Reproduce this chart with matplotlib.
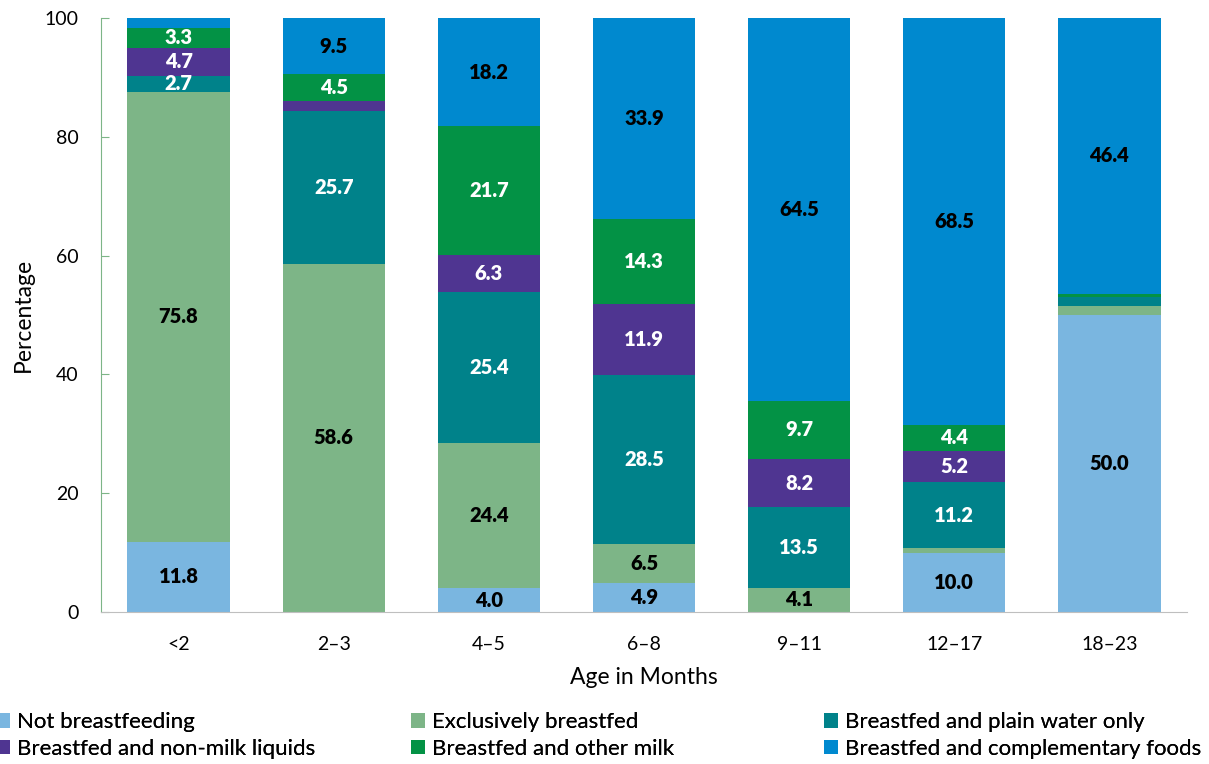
import matplotlib
matplotlib.use("Agg")
import matplotlib.pyplot as plt
import numpy as np

plt.rcParams['font.family'] = ['Lato', 'DejaVu Sans']

categories = ["<2", "2\u20133", "4\u20135", "6\u20138", "9\u201311", "12\u201317", "18\u201323"]
series_names = ["Not breastfeeding", "Exclusively breastfed", "Breastfed and plain water only",
                "Breastfed and non-milk liquids", "Breastfed and other milk",
                "Breastfed and complementary foods"]
not_bf      = [11.8, 0.0, 4.0, 4.9, 0.0, 10.0, 50.0]
exclusive   = [75.8, 58.6, 24.4, 6.5, 4.1, 0.7, 1.5]
plain_water = [2.7, 25.7, 25.4, 28.5, 13.5, 11.2, 1.5]
non_milk    = [4.7, 1.7, 6.3, 11.9, 8.2, 5.2, 0.0]
other_milk  = [3.3, 4.5, 21.7, 14.3, 9.7, 4.4, 0.6]
complementary = [1.7, 9.5, 18.2, 33.9, 64.5, 68.5, 46.4]

series = [not_bf, exclusive, plain_water, non_milk, other_milk, complementary]
colors = ["#7AB6E0", "#7DB587", "#00828A", "#4F3591", "#039245", "#0089CF"]
label_colors = ["black", "black", "white", "white", "white", "black"]

fig = plt.figure(figsize=(12.09, 7.64), dpi=100)
ax = fig.add_axes([101/1209, 1-612/764, (1187-101)/1209, (612-18)/764])

x = np.arange(len(categories))
bottom = np.zeros(len(categories))
handles = []
for vals, col, lc, name in zip(series, colors, label_colors, series_names):
    v = np.array(vals)
    bars = ax.bar(x, v, bottom=bottom, width=0.66, color=col, label=name, linewidth=0)
    handles.append(bars)
    for xi, b, val in zip(x, bottom, v):
        if val >= 2.5:
            ax.text(xi, b + val/2, f"{val:.1f}", ha='center', va='center',
                    color=lc, fontsize=14.5, fontweight='heavy')
    bottom += v

ax.set_xlim(-0.5, len(categories)-0.5)
ax.set_ylim(0, 100)
ax.set_yticks([0, 20, 40, 60, 80, 100])
ax.set_xticks(x)
ax.set_xticklabels(categories)
ax.tick_params(axis='y', direction='in', length=6, color='#7DB587', labelsize=14, pad=16)
ax.tick_params(axis='x', length=0, labelsize=14, pad=17)
for s in ['top', 'right']:
    ax.spines[s].set_visible(False)
ax.spines['left'].set_color('#7DB587')
ax.spines['bottom'].set_color('#BFBFBF')
ax.set_ylabel("Percentage", fontsize=16.5, labelpad=8)
ax.set_xlabel("Age in Months", fontsize=16.5, labelpad=10)

col_x = [-4, 411, 824]
columns = [[0, 3], [1, 4], [2, 5]]
for cx, idxs in zip(col_x, columns):
    leg = fig.legend([handles[i] for i in idxs], [series_names[i] for i in idxs],
                     loc='lower left', bbox_to_anchor=(cx/1209, 5/764),
                     frameon=False, fontsize=16,
                     handlelength=0.63, handleheight=0.63, handletextpad=0.3,
                     labelspacing=0.3, borderaxespad=0.0, borderpad=0.0)
    fig.add_artist(leg)

fig.savefig("out.png", dpi=100)
